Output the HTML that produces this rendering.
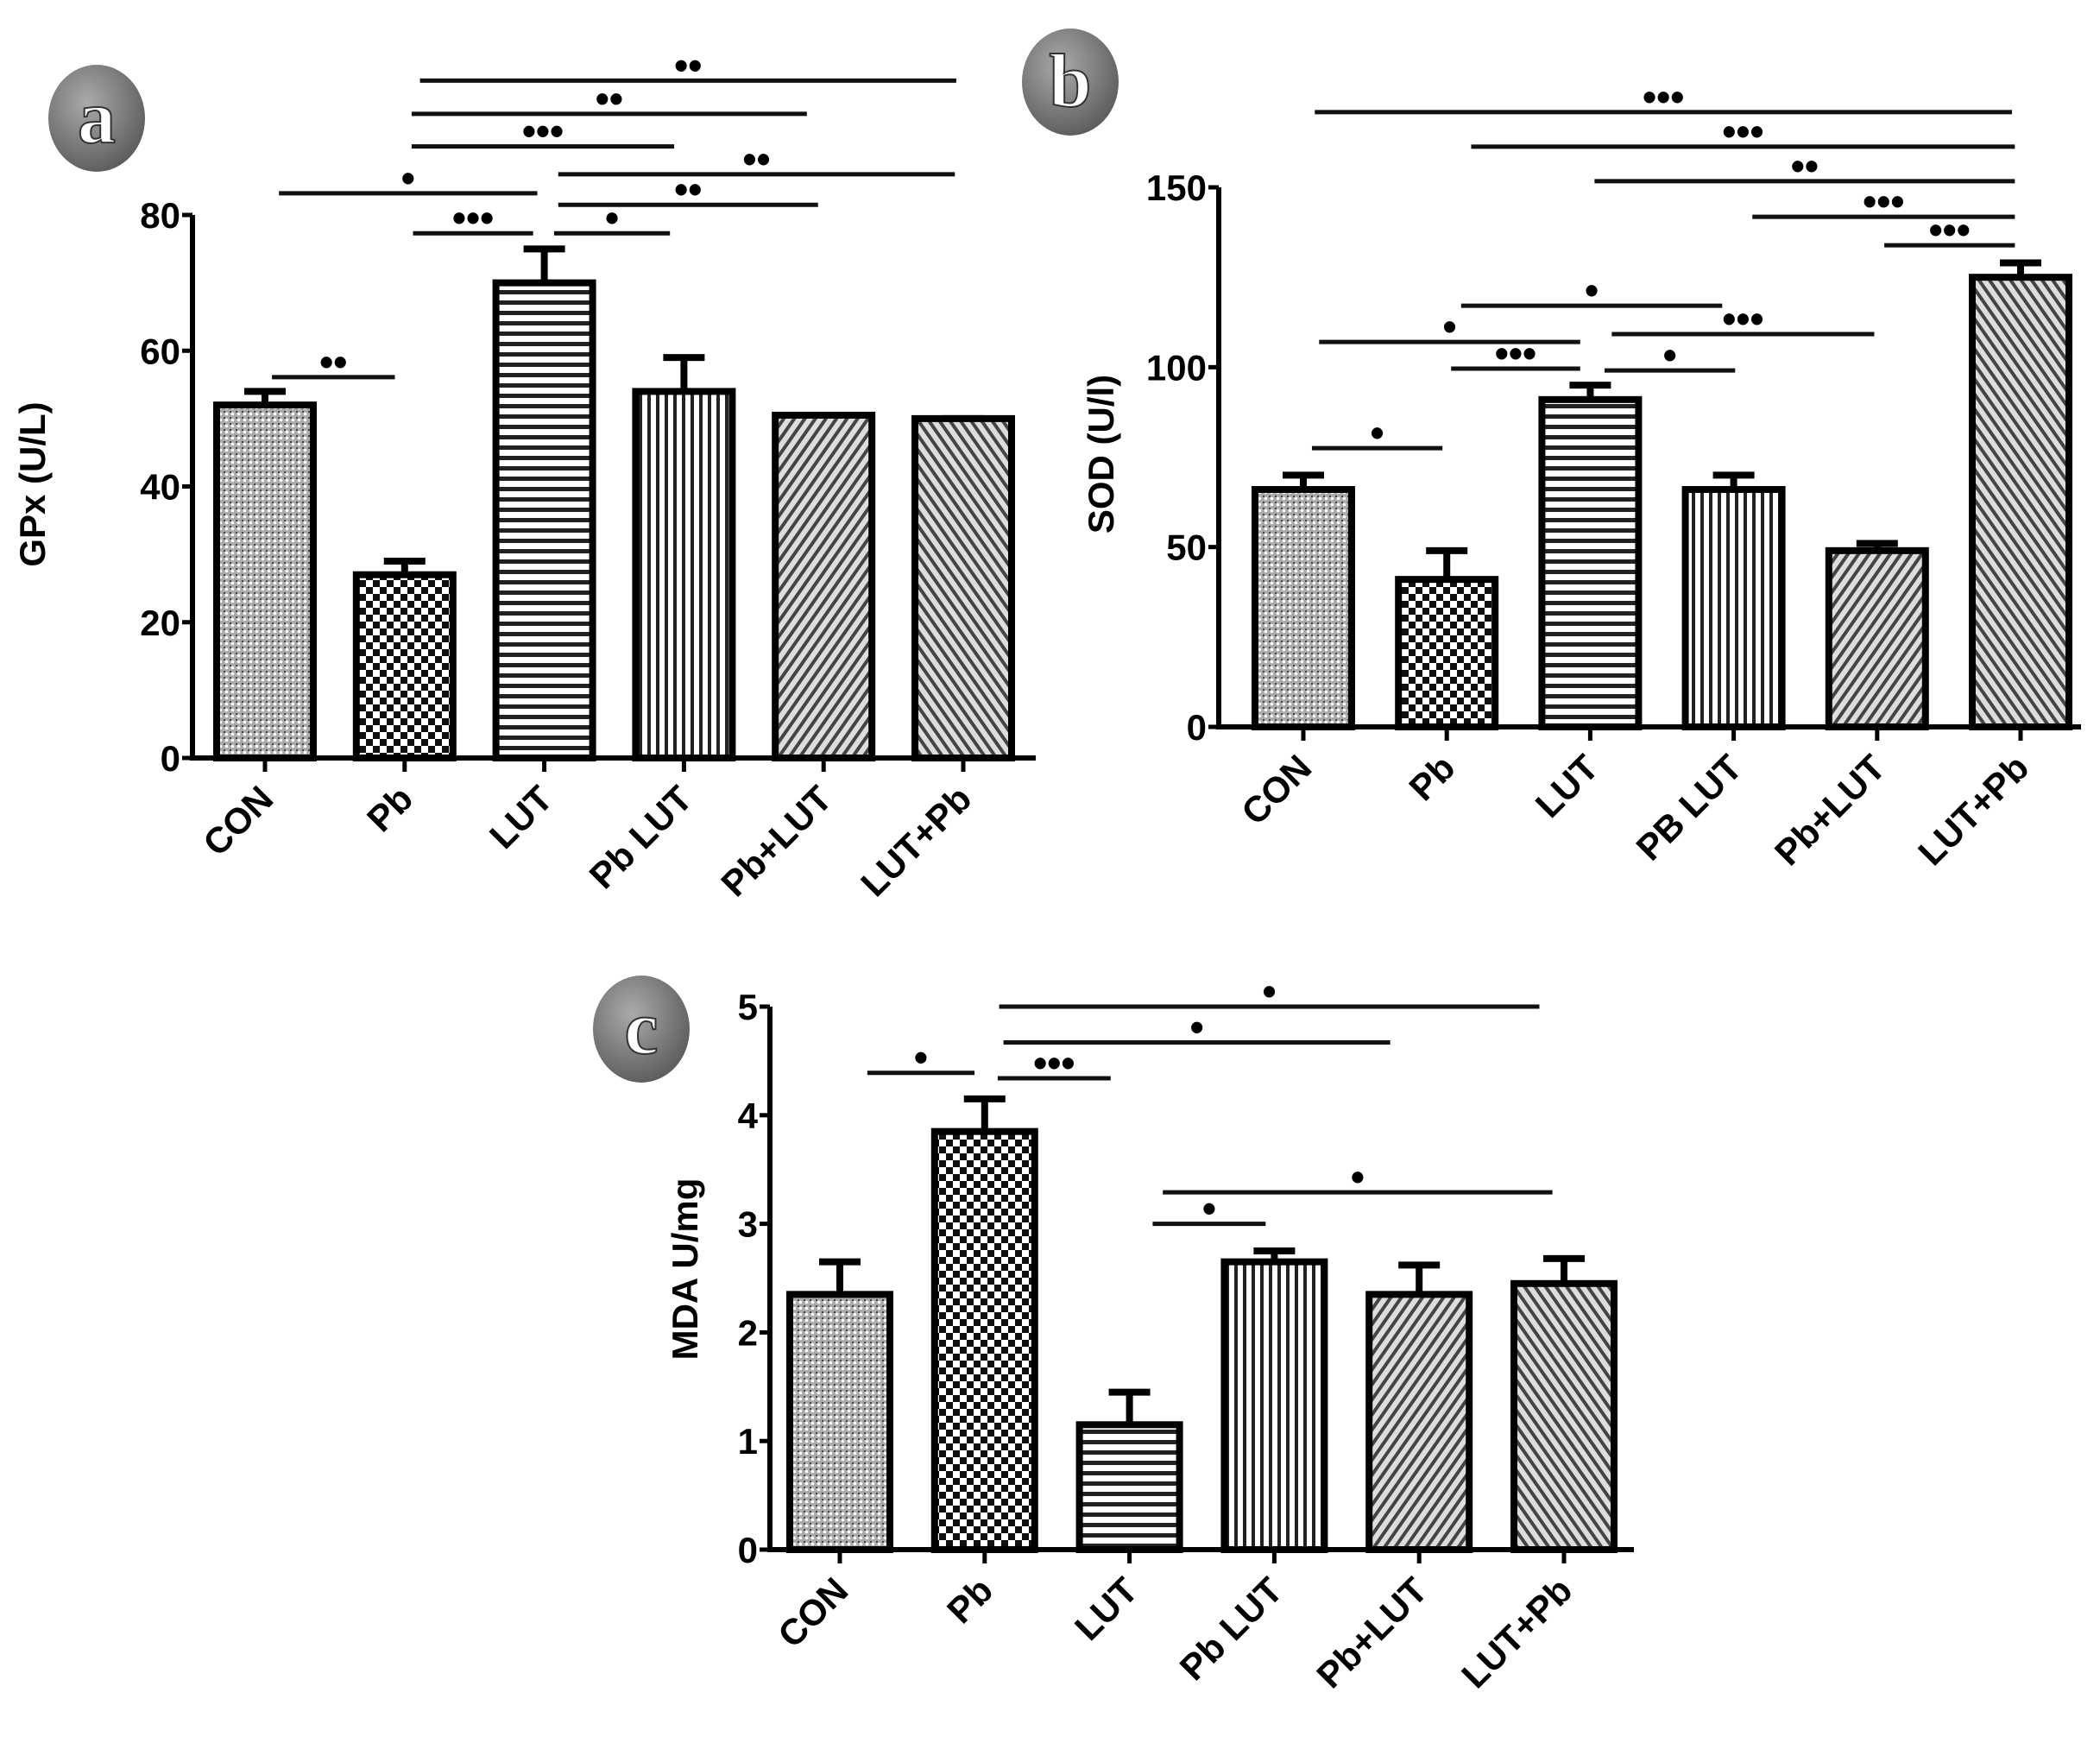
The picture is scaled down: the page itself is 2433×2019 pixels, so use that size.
<!DOCTYPE html>
<html><head><meta charset="utf-8"><style>
html,body{margin:0;padding:0;background:#fff}
svg{display:block}
text{font-family:"Liberation Sans",Arial,sans-serif;font-weight:bold;fill:#000}
</style></head><body>
<svg id="fig" width="2433" height="2019" viewBox="0 0 2433 2019">
<defs>
<pattern id="p-con" width="7" height="7" patternUnits="userSpaceOnUse"><rect width="7" height="7" fill="#aaa"/><circle cx="3.5" cy="3.5" r="1.8" fill="#fff"/><rect x="0" y="0" width="2" height="2" fill="#444"/></pattern>
<pattern id="p-pb" width="16" height="16" patternUnits="userSpaceOnUse"><rect width="16" height="16" fill="#fff"/><rect width="8" height="8" fill="#111"/><rect x="8" y="8" width="8" height="8" fill="#111"/></pattern>
<pattern id="p-lut" width="10" height="12" patternUnits="userSpaceOnUse"><rect width="10" height="12" fill="#fff"/><rect y="0" width="10" height="5" fill="#222"/></pattern>
<pattern id="p-pblut" width="10" height="10" patternUnits="userSpaceOnUse"><rect width="10" height="10" fill="#fff"/><rect width="4" height="10" fill="#222"/></pattern>
<pattern id="p-fw" width="10" height="10" patternUnits="userSpaceOnUse" patternTransform="rotate(35)"><rect width="10" height="10" fill="#ddd"/><rect width="4" height="10" fill="#444"/></pattern>
<pattern id="p-bk" width="10" height="10" patternUnits="userSpaceOnUse" patternTransform="rotate(-35)"><rect width="10" height="10" fill="#ddd"/><rect width="4" height="10" fill="#444"/></pattern>
<radialGradient id="badge" cx="40%" cy="35%" r="70%"><stop offset="0" stop-color="#aaa"/><stop offset="1" stop-color="#5a5a5a"/></radialGradient>
</defs>
</svg>
<script>
// Panel a data
const catsA = ["CON","Pb","LUT","Pb LUT","Pb+LUT","LUT+Pb"];
const valsA = [52,27,70,54,50.5,50];
const errA = [54,29,75,59,50.5,50];
const ticksA = [0,20,40,60,80];
const sigA = [[1.11,4.95,99.8,"**"],[1.05,3.88,94.9,"**"],[1.05,2.93,90.1,"***"],[2.10,4.94,86.0,"**"],[0.10,1.95,83.2,"*"],[2.10,3.96,81.5,"**"],[1.06,1.92,77.3,"***"],[2.07,2.90,77.3,"*"],[0.05,0.93,56.1,"**"]];
// Panel b data
const catsB = ["CON","Pb","LUT","PB LUT","Pb+LUT","LUT+Pb"];
const valsB = [66,41,91,66,49,125];
const errB = [70,49,95,70,51,129];
const ticksB = [0,50,100,150];
const sigB = [[0.08,4.94,170.9,"***"],[1.17,4.96,161.3,"***"],[2.03,4.96,151.7,"**"],[3.13,4.96,141.8,"***"],[4.05,4.96,133.9,"***"],[1.10,2.92,117.1,"*"],[0.11,1.93,107.0,"*"],[2.15,3.98,109.2,"***"],[1.03,1.93,99.6,"***"],[2.10,3.01,99.1,"*"],[0.06,0.97,77.5,"*"]];
// Panel c data
const catsC = ["CON","Pb","LUT","Pb LUT","Pb+LUT","LUT+Pb"];
const valsC = [2.35,3.85,1.15,2.65,2.35,2.45];
const errC = [2.65,4.15,1.45,2.75,2.62,2.68];
const ticksC = [0,1,2,3,4,5];
const sigC = [[1.10,4.83,5.0,"*"],[1.13,3.80,4.67,"*"],[0.19,0.93,4.39,"*"],[1.09,1.87,4.34,"***"],[2.23,4.92,3.29,"*"],[2.16,2.94,3.0,"*"]];
const fills = ["url(#p-con)","url(#p-pb)","url(#p-lut)","url(#p-pblut)","url(#p-fw)","url(#p-bk)"];
const NS="http://www.w3.org/2000/svg";
const svg=document.getElementById('fig');
function mk(tag,attrs,parent,txt){const e=document.createElementNS(NS,tag);for(const k in attrs)e.setAttribute(k,attrs[k]);if(txt!==undefined)e.textContent=txt;parent.appendChild(e);return e;}
function panel(id,cfg){
  const g=mk('g',{},svg);
  
  
  const yS=v=>cfg.y0-(v/cfg.ymax)*(cfg.y0-cfg.yTop);
  const xS=i=>cfg.x0c+cfg.step*i;
  cfg.vals.forEach((v,i)=>{
    const eb=mk('path',{d:`M${xS(i)} ${yS(v)} V${yS(cfg.err[i])} M${xS(i)-24} ${yS(cfg.err[i])} H${xS(i)+24}`,stroke:'#000','stroke-width':8,fill:'none'},g);
    
    
    const r=mk('rect',{x:xS(i)-cfg.bw/2,y:yS(v),width:cfg.bw,height:yS(0)-yS(v),fill:fills[i],stroke:'#000','stroke-width':8},g);
    
    
  });
  const ax=mk('path',{d:`M${cfg.ax} ${cfg.yTop} V${cfg.y0} H${cfg.xEnd}`,stroke:'#000','stroke-width':6,fill:'none'},g);
  
  
  cfg.ticks.forEach(t=>{
    mk('line',{x1:cfg.ax-12,x2:cfg.ax,y1:yS(t),y2:yS(t),stroke:'#000','stroke-width':5},g);
    const tl=mk('text',{x:cfg.ax-14,y:yS(t)+15,'text-anchor':'end','font-size':42},g,String(t));
    
    
  });
  cfg.cats.forEach((c,i)=>{
    mk('line',{x1:xS(i),x2:xS(i),y1:yS(0),y2:yS(0)+16,stroke:'#000','stroke-width':5},g);
    const lx=xS(i)+12,ly=yS(0)+50;
    const tl=mk('text',{x:lx,y:ly,'text-anchor':'end','font-size':42,transform:`rotate(-45 ${lx} ${ly})`},g,c);
    
    
  });
  const yl=mk('text',{x:cfg.ylx,y:cfg.yly,'text-anchor':'middle','font-size':42,transform:`rotate(-90 ${cfg.ylx} ${cfg.yly})`},g,cfg.ylabel);
  
  
  cfg.sig.forEach(s=>{
    const y=yS(s[2]);
    const l=mk('line',{x1:xS(s[0]),x2:xS(s[1]),y1:y,y2:y,stroke:'#111','stroke-width':5},g);
    
    
    const t=mk('text',{x:(xS(s[0])+xS(s[1]))/2,y:y-2,'text-anchor':'middle','font-size':46},g,s[3].replace(/\*/g,'•'));
    
    
  });
  const b=mk('ellipse',{cx:cfg.bx,cy:cfg.by,rx:56,ry:62,fill:'url(#badge)'},g);
  
  
  const bt=mk('text',{x:cfg.bx,y:cfg.by+28,'text-anchor':'middle','font-size':88,style:'font-family:"Liberation Serif",serif;fill:#fff;stroke:#333;stroke-width:2'},g,id);
  
  
}
panel('a',{cats:catsA,vals:valsA,err:errA,ticks:ticksA,sig:sigA,ymax:80,y0:878,yTop:249,ax:223,xEnd:1200,x0c:307,step:161.8,bw:112,ylabel:'GPx (U/L)',ylx:52,yly:561,bx:112,by:137});
panel('b',{cats:catsB,vals:valsB,err:errB,ticks:ticksB,sig:sigB,ymax:150,y0:842,yTop:217,ax:1412,xEnd:2411,x0c:1510,step:166.2,bw:112,ylabel:'SOD (U/l)',ylx:1290,yly:526,bx:1240,by:95});
panel('c',{cats:catsC,vals:valsC,err:errC,ticks:ticksC,sig:sigC,ymax:5,y0:1795,yTop:1166,ax:892,xEnd:1893,x0c:973,step:167.8,bw:116,ylabel:'MDA U/mg',ylx:808,yly:1470,bx:743,by:1192});
</script>
</body></html>
